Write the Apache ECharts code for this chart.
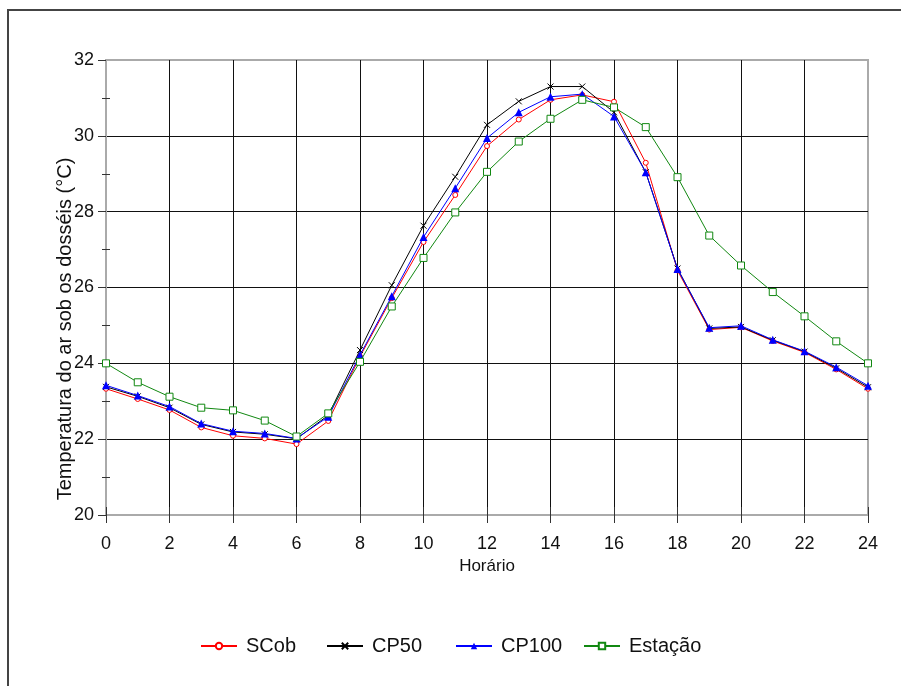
<!DOCTYPE html>
<html>
<head>
<meta charset="utf-8">
<script src="https://cdn.jsdelivr.net/npm/echarts@6/dist/echarts.min.js"></script>
<style>
html,body{margin:0;padding:0;background:#fff;}
#chart{width:901px;height:686px;}
</style>
</head>
<body>
<div id="chart"></div>
<script>
const hours = [0,1,2,3,4,5,6,7,8,9,10,11,12,13,14,15,16,17,18,19,20,21,22,23,24];
const scob = [23.33,23.06,22.77,22.31,22.09,22.02,21.87,22.48,24.18,25.72,27.20,28.44,29.73,30.43,30.95,31.08,30.90,29.29,26.45,24.89,24.95,24.59,24.29,23.84,23.33];
const cp50 = [23.38,23.13,22.83,22.39,22.19,22.13,22.01,22.63,24.35,26.06,27.63,28.92,30.29,30.91,31.30,31.30,30.62,29.04,26.50,24.92,24.96,24.61,24.31,23.87,23.37];
const cp100 = [23.42,23.15,22.86,22.41,22.21,22.15,22.02,22.59,24.22,25.77,27.33,28.62,29.94,30.62,31.03,31.10,30.51,29.04,26.49,24.94,24.99,24.62,24.32,23.90,23.41];
const estacao = [24.00,23.50,23.12,22.83,22.76,22.49,22.07,22.68,24.04,25.50,26.78,27.98,29.05,29.85,30.45,30.95,30.75,30.23,28.91,27.37,26.58,25.88,25.24,24.58,24.00];
const seriesNames = ['SCob','CP50','CP100','Estação'];
const xTitle = 'Horário';
const yTitle = 'Temperatura do ar sob os dosséis (°C)';

function pairs(vals){ return hours.map((h,i)=>[h, vals[i]]); }

const chart = echarts.init(document.getElementById('chart'), null, {renderer:'canvas'});
const font = 'Liberation Sans, Arial, sans-serif';
const crossPath = 'path://M0,0L10,10M10,0L0,10';
const legendLefts = [200, 326, 455, 583];

chart.setOption({
  animation:false,
  backgroundColor:'#fff',
  graphic:[
    {type:'rect', shape:{x:8, y:10, width:1000, height:1000}, style:{fill:'none', stroke:'#444', lineWidth:2}, z:-10},
    {type:'text', x:65, y:329, rotation:Math.PI/2, style:{text:yTitle, font:'20px '+font, fill:'#111', align:'center', verticalAlign:'middle'}}
  ],
  grid:{left:106, right:33, top:60, bottom:171, show:true, borderColor:'#aaa', borderWidth:2, backgroundColor:'transparent'},
  legend: seriesNames.map((n,i)=>({
    left:legendLefts[i], top:636, padding:0, itemWidth:36, itemHeight:8,
    textStyle:{fontSize:20, fontFamily:font, color:'#111', padding:[0,0,0,4]},
    data:[n]
  })),
  xAxis:[{
    type:'value', min:0, max:24, interval:2,
    name:xTitle, nameLocation:'middle', nameGap:42,
    nameTextStyle:{fontSize:17, fontFamily:font, color:'#111'},
    axisLine:{show:true, onZero:false, lineStyle:{color:'#aaa', width:2}},
    axisTick:{show:true, length:8, lineStyle:{color:'#333'}},
    axisLabel:{fontSize:18, fontFamily:font, color:'#111', margin:20},
    splitLine:{show:true, showMinLine:false, showMaxLine:false, lineStyle:{color:'#111', width:1}}
  },{
    type:'value', min:0, max:24, interval:2, position:'bottom',
    axisLine:{show:false}, axisLabel:{show:false}, splitLine:{show:false},
    axisTick:{show:true, inside:true, length:8, lineStyle:{color:'#333'}}
  }],
  yAxis:[{
    type:'value', min:20, max:32, interval:2,
    axisLine:{show:true, onZero:false, lineStyle:{color:'#aaa', width:2}},
    axisTick:{show:true, length:8, lineStyle:{color:'#333'}},
    minorTick:{show:true, splitNumber:2, length:4, lineStyle:{color:'#333'}},
    axisLabel:{fontSize:18, fontFamily:font, color:'#111', margin:12},
    splitLine:{show:true, showMinLine:false, showMaxLine:false, lineStyle:{color:'#111', width:1}}
  },{
    type:'value', min:20, max:32, interval:2, position:'left',
    axisLine:{show:false}, axisLabel:{show:false}, splitLine:{show:false},
    axisTick:{show:false, inside:true},
    minorTick:{show:true, splitNumber:2, length:4, lineStyle:{color:'#333'}}
  }],
  series:[
    {name:'SCob', type:'line', data:pairs(scob), z:2,
     symbol:'circle', symbolSize:5, showAllSymbol:true,
     lineStyle:{color:'#ff0000', width:1}, itemStyle:{color:'#fff', borderColor:'#ff0000', borderWidth:1}},
    {name:'CP50', type:'line', data:pairs(cp50), z:3,
     symbol:crossPath, symbolSize:6, showAllSymbol:true,
     lineStyle:{color:'#000', width:1}, itemStyle:{color:'#000', borderColor:'#000', borderWidth:1}},
    {name:'CP100', type:'line', data:pairs(cp100), z:4,
     symbol:'triangle', symbolSize:8, showAllSymbol:true,
     lineStyle:{color:'#0000ff', width:1}, itemStyle:{color:'#0000ff', borderColor:'#0000ff', borderWidth:0}},
    {name:'Estação', type:'line', data:pairs(estacao), z:5,
     symbol:'rect', symbolSize:7, showAllSymbol:true,
     lineStyle:{color:'#118811', width:1}, itemStyle:{color:'#fff', borderColor:'#118811', borderWidth:1}}
  ]
});
</script>
</body>
</html>
